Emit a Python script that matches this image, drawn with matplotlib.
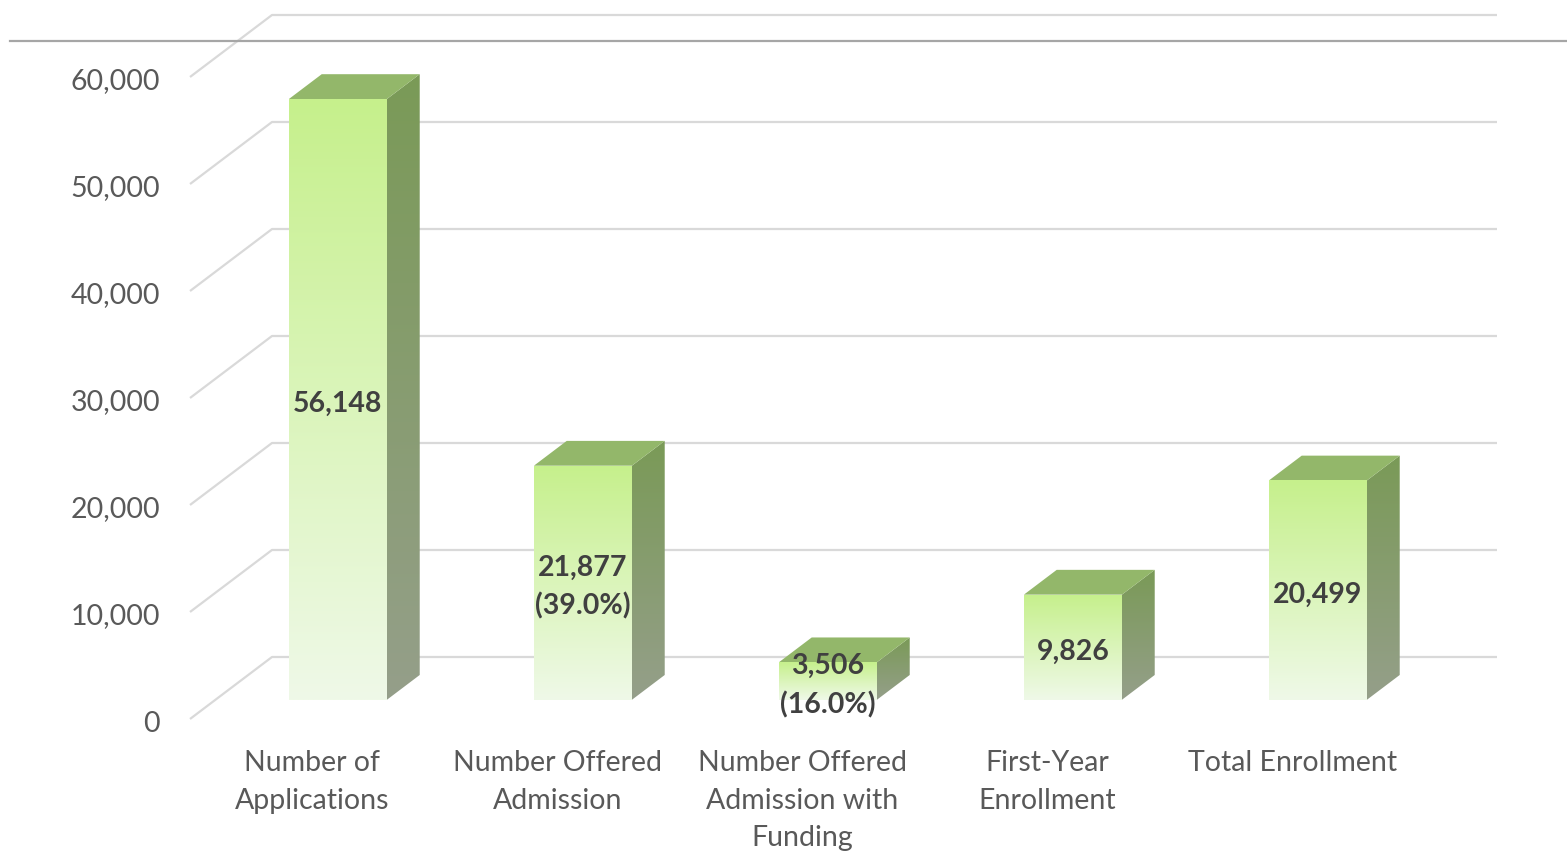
import numpy as np
import matplotlib
matplotlib.use("Agg")
import matplotlib.pyplot as plt
from matplotlib.patches import Polygon
from matplotlib.lines import Line2D
from matplotlib.colors import to_rgb

# ---------------- data ----------------
categories = ["Number of\nApplications", "Number Offered\nAdmission",
              "Number Offered\nAdmission with\nFunding", "First-Year\nEnrollment",
              "Total Enrollment"]
values = [56148, 21877, 3506, 9826, 20499]
pct_base = [None, 0, 1, None, None]          # index of the value the % refers to
y_ticks = [0, 10000, 20000, 30000, 40000, 50000, 60000]

# ---------------- style / geometry ----------------
W, H, DPI = 1567, 853, 100
PX_PER_CAT = 245.0
X0_PX = 190.0          # pixel of front-plane category 0 left edge
Y0_PX = 720.0          # pixel of value 0 on front plane
PX_PER_VAL = 0.0107    # pixels per unit value
DEPTH_DX = 82.0 / PX_PER_CAT          # full depth, category units
DEPTH_DY = 62.0 / PX_PER_VAL          # full depth, value units
T_FRONT, T_BACK = 0.31, 0.71
BAR_W = 0.40
TXT_SHIFT = 3.5 / PX_PER_VAL          # small downward text nudge

plt.rcParams['font.family'] = ['Lato', 'DejaVu Sans']
fig = plt.figure(figsize=(W / DPI, H / DPI), dpi=DPI)
ax = fig.add_axes([0, 0, 1, 1])
ax.set_xlim(-X0_PX / PX_PER_CAT, (W - X0_PX) / PX_PER_CAT)
ax.set_ylim((Y0_PX - H) / PX_PER_VAL, Y0_PX / PX_PER_VAL)
ax.axis('off')

n = len(categories)
grid_c = '#d9d9d9'
# gridlines: side wall diagonals + back wall horizontals
for v in y_ticks:
    ax.plot([0, DEPTH_DX, n + DEPTH_DX], [v, v + DEPTH_DY, v + DEPTH_DY],
            color=grid_c, lw=1.6, zorder=1, solid_capstyle='butt')
    ax.text(-30 / PX_PER_CAT, v - TXT_SHIFT, f"{v:,}", ha='right', va='center',
            fontsize=20.5, color='#595959')

# top border line (figure-level)
fig.add_artist(Line2D([10 / W, 1.0], [1 - 42 / H, 1 - 42 / H],
                      transform=fig.transFigure, color='#a6a6a6', lw=1.6))

def grad_fill(poly_xy, c_top, c_bot, y_lo, y_hi, z):
    poly = Polygon(poly_xy, closed=True, facecolor='none', edgecolor='none', zorder=z)
    ax.add_patch(poly)
    xs = [p[0] for p in poly_xy]
    c1, c2 = np.array(to_rgb(c_bot)), np.array(to_rgb(c_top))
    t = np.linspace(0, 1, 256)[:, None, None]
    img = c1 + (c2 - c1) * t
    im = ax.imshow(img, extent=(min(xs), max(xs), y_lo, y_hi), origin='lower',
                   aspect='auto', zorder=z, interpolation='bilinear')
    im.set_clip_path(poly)

fdx, fdy = T_FRONT * DEPTH_DX, T_FRONT * DEPTH_DY
bdx, bdy = (T_BACK - T_FRONT) * DEPTH_DX, (T_BACK - T_FRONT) * DEPTH_DY

for i, (cat, v) in enumerate(zip(categories, values)):
    xc = i + 0.5
    xl = xc - BAR_W / 2 + fdx
    xr = xc + BAR_W / 2 + fdx
    yb = 0 + fdy
    yt = v + fdy
    z = 3 + i
    # side face
    side = [(xr, yb), (xr + bdx, yb + bdy), (xr + bdx, yt + bdy), (xr, yt)]
    grad_fill(side, '#7a9a57', '#959f8a', yb, yt + bdy, z)
    # top face
    top = [(xl, yt), (xr, yt), (xr + bdx, yt + bdy), (xl + bdx, yt + bdy)]
    ax.add_patch(Polygon(top, closed=True, facecolor='#93b76a', edgecolor='none', zorder=z))
    # front face
    front = [(xl, yb), (xr, yb), (xr, yt), (xl, yt)]
    grad_fill(front, '#c6f08c', '#eff9e8', yb, yt, z + 0.5)

    # data label
    lab = f"{v:,}"
    if pct_base[i] is not None:
        lab += f"\n({100 * v / values[pct_base[i]]:.1f}%)"
    ax.text(xc + fdx, v / 2 + fdy - TXT_SHIFT, lab, ha='center', va='center',
            fontsize=20.5, fontweight='bold', color='#404040', zorder=20,
            linespacing=1.55)

    # category label
    ax.text(xc, (Y0_PX - 750) / PX_PER_VAL, cat, ha='center', va='top',
            fontsize=20.5, color='#595959', linespacing=1.55)

fig.savefig('out.png', dpi=DPI)
